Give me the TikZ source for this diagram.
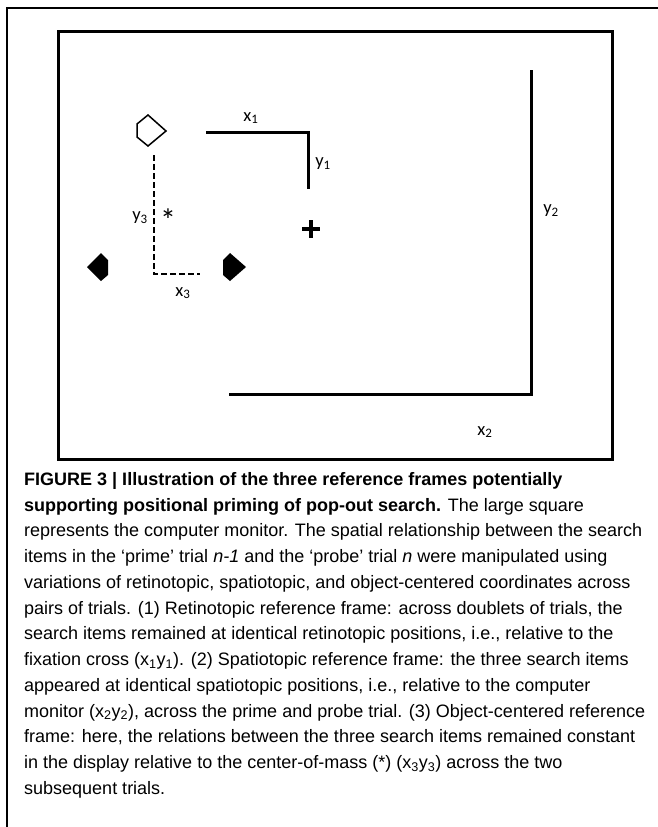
\documentclass[tikz,border=0pt]{standalone}
\usepackage{fontspec}
\setmainfont{Liberation Sans}
\newfontfamily\lblfont{Carlito}
\begin{document}
\begin{tikzpicture}[
    x=1pt, y=-1pt,
    frameline/.style={line width=2pt, line cap=rect},
    monitor/.style={draw, line width=2.5pt, inner sep=0pt, anchor=north west},
    axis/.style={line width=3pt, line join=miter},
    dashaxis/.style={line width=1.8pt, dash pattern=on 6pt off 3pt},
    lbl/.style={font=\lblfont\fontsize{18.5}{20}\selectfont, inner sep=0pt},
    item/.style={line width=1.5pt, line join=miter},
    caption/.style={font=\fontsize{18}{25.75}\selectfont, align=left, anchor=north west, inner sep=0pt}
  ]
  \useasboundingbox (0,0) rectangle (657,827);

  % Outer frame
  \coordinate (fr) at (657,8);
  \coordinate (ftl) at (7,8);
  \coordinate (fb) at (7,827);
  \draw[frameline] (fr) -- (ftl) -- (fb);

  % Computer monitor
  \node[monitor, minimum width=554pt, minimum height=428pt] (screen) at (57,30) {};

  % Search items
  \draw[item] (148,115) -- (166,131) -- (148,146) -- (137,137) -- (137,124) -- cycle;
  \fill (87,267) -- (101,253) -- (108,260) -- (108,275) -- (101,281) -- cycle;
  \fill (223,260) -- (230,253) -- (246,267) -- (230,281) -- (223,275) -- cycle;

  % Fixation cross
  \coordinate (fxl) at (302,229);
  \coordinate (fxr) at (320,229);
  \coordinate (fxt) at (311,220);
  \coordinate (fxb) at (311,238);
  \draw[line width=4pt] (fxl) -- (fxr) (fxt) -- (fxb);

  % Retinotopic frame: x1 y1
  \coordinate (rs) at (206,132);
  \coordinate (rc) at (308,132);
  \coordinate (re) at (308,189);
  \draw[axis] (rs) -- (rc) -- (re);
  \node[lbl] (x1) at (251,118) {x\textsubscript{1}};
  \node[lbl] (y1) at (323,164) {y\textsubscript{1}};

  % Spatiotopic frame: x2 y2
  \coordinate (ss) at (229,394);
  \coordinate (sc) at (531,394);
  \coordinate (se) at (531,70);
  \draw[axis] (ss) -- (sc) -- (se);
  \node[lbl] (x2) at (485,432) {x\textsubscript{2}};
  \node[lbl] (y2) at (551,211) {y\textsubscript{2}};

  % Object-centered frame: x3 y3
  \coordinate (os) at (154,155);
  \coordinate (oc) at (154,274);
  \coordinate (oe) at (200,274);
  \draw[dashaxis] (os) -- (oc) -- (oe);
  \node[lbl] (y3) at (140,218) {y\textsubscript{3}};
  \node[lbl] (x3) at (183,293) {x\textsubscript{3}};
  \node[lbl, font=\lblfont\fontsize{32}{34}\selectfont] (com) at (168,220) {*};

  % Caption
  \node[caption] (cap) at (24,472) {%
    \textbf{FIGURE 3 | Illustration of the three reference frames potentially}\\
    \textbf{supporting positional priming of pop-out search.} The large square\\
    represents the computer monitor. The spatial relationship between the search\\
    items in the ‘prime’ trial \textit{n-1} and the ‘probe’ trial \textit{n} were manipulated using\\
    variations of retinotopic, spatiotopic, and object-centered coordinates across\\
    pairs of trials. (1) Retinotopic reference frame: across doublets of trials, the\\
    search items remained at identical retinotopic positions, i.e., relative to the\\
    fixation cross (x\textsubscript{1}y\textsubscript{1}). (2) Spatiotopic reference frame: the three search items\\
    appeared at identical spatiotopic positions, i.e., relative to the computer\\
    monitor (x\textsubscript{2}y\textsubscript{2}), across the prime and probe trial. (3) Object-centered reference\\
    frame: here, the relations between the three search items remained constant\\
    in the display relative to the center-of-mass (*) (x\textsubscript{3}y\textsubscript{3}) across the two\\
    subsequent trials.};

\end{tikzpicture}
\end{document}
